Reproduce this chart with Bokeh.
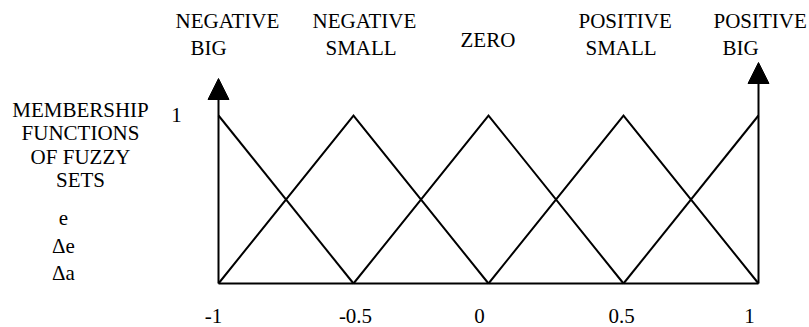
from bokeh.plotting import figure
from bokeh.models import Arrow, NormalHead, ColumnDataSource
from bokeh.core.properties import value
from bokeh.embed import file_html
from bokeh.resources import INLINE

# ---- data ----
set_centers = [-1.0, -0.5, 0.0, 0.5, 1.0]
set_half_width = 0.5
set_peak = 1.0
set_names_line1 = ["NEGATIVE", "NEGATIVE", "", "POSITIVE", "POSITIVE"]
set_names_line2 = ["BIG", "SMALL", "ZERO", "SMALL", "BIG"]
x_tick_values = [-1.0, -0.5, 0.0, 0.5, 1.0]
x_tick_labels = ["-1", "-0.5", "0", "0.5", "1"]
y_tick_values = [1.0]
y_tick_labels = ["1"]
title_lines = ["MEMBERSHIP", "FUNCTIONS", "OF FUZZY", "SETS"]
variable_names = ["e", "\u0394e", "\u0394a"]
x_min, x_max = -1.0, 1.0

# ---- layout helpers (picture pixels -> data) ----
W, H = 809, 327
PX_PER_X = 270.0
PX_PER_Y = 168.0
X0_PX = 218.0   # picture x of x = -1
Y0_PX = 283.0   # picture y of y = 0
TEXT_DY = -7.5  # correction of text baseline placement

def X(px):
    return x_min + (px - X0_PX) / PX_PER_X

def Y(py):
    return (Y0_PX - py) / PX_PER_Y

def TY(py):
    return Y(py + TEXT_DY)

FONT = value("Liberation Serif")
FS = "21px"

p = figure(width=W, height=H, output_backend="svg", toolbar_location=None,
           x_range=(X(0), X(W)), y_range=(Y(H), Y(0)),
           x_axis_location=None, y_axis_location=None,
           min_border=0, min_border_left=0, min_border_right=0,
           min_border_top=0, min_border_bottom=0)
p.grid.visible = False
p.outline_line_color = None
p.background_fill_color = "white"
p.border_fill_color = "white"

# triangular membership functions, clipped to the universe [-1, 1]
xs, ys = [], []
for c in set_centers:
    pts = [(c - set_half_width, 0.0), (c, set_peak), (c + set_half_width, 0.0)]
    px_, py_ = [], []
    for (x, y) in pts:
        if x_min <= x <= x_max:
            px_.append(x)
            py_.append(y)
    xs.append(px_)
    ys.append(py_)
p.multi_line(xs=xs, ys=ys, line_color="black", line_width=2, line_join="miter")

# baseline
p.line(x=[x_min, x_max], y=[0, 0], line_color="black", line_width=2)

# vertical arrows at both ends
p.add_layout(Arrow(x_start=x_min, y_start=0, x_end=x_min, y_end=Y(78),
                   line_color="black", line_width=2,
                   end=NormalHead(size=21, fill_color="black", line_color="black", line_width=1)))
p.add_layout(Arrow(x_start=x_max, y_start=0, x_end=x_max, y_end=Y(62),
                   line_color="black", line_width=2,
                   end=NormalHead(size=21, fill_color="black", line_color="black", line_width=1)))

# set names (two lines, left aligned)
line1_px = [175, 312, None, 578, 713]
line2_px = [190, 325, 460, 585, 722]
line2_base = [55, 55, 46.7, 55, 55]
l1 = [(X(xp), t) for xp, t in zip(line1_px, set_names_line1) if t]
p.text(x=[a for a, _ in l1], y=[TY(28.3)] * len(l1), text=[t for _, t in l1],
       text_font=FONT, text_font_size=FS, text_color="black",
       text_align="left", text_baseline="alphabetic")
p.text(x=[X(v) for v in line2_px], y=[TY(b) for b in line2_base], text=set_names_line2,
       text_font=FONT, text_font_size=FS, text_color="black",
       text_align="left", text_baseline="alphabetic")

# left description
title_base = [116.7, 140.1, 163.5, 186.9]
p.text(x=[X(80)] * len(title_lines), y=[TY(b) for b in title_base], text=title_lines,
       text_font=FONT, text_font_size=FS, text_color="black",
       text_align="center", text_baseline="alphabetic")
var_base = [225, 253, 280]
p.text(x=[X(63)] * len(variable_names), y=[TY(b) for b in var_base], text=variable_names,
       text_font=FONT, text_font_size=FS, text_color="black",
       text_align="center", text_baseline="alphabetic")

# y tick label
p.text(x=[X(176)], y=[TY(122)], text=y_tick_labels,
       text_font=FONT, text_font_size=FS, text_color="black",
       text_align="center", text_baseline="alphabetic")

# x tick labels
tick_dx = [-5, 2, -9, -2, -9]
src = ColumnDataSource(dict(x=x_tick_values, y=[TY(323)] * len(x_tick_values),
                            text=x_tick_labels, dx=tick_dx))
p.text(x="x", y="y", text="text", x_offset="dx", source=src,
       text_font=FONT, text_font_size=FS, text_color="black",
       text_align="center", text_baseline="alphabetic")

open("out.html", "w").write(file_html(p, INLINE))
